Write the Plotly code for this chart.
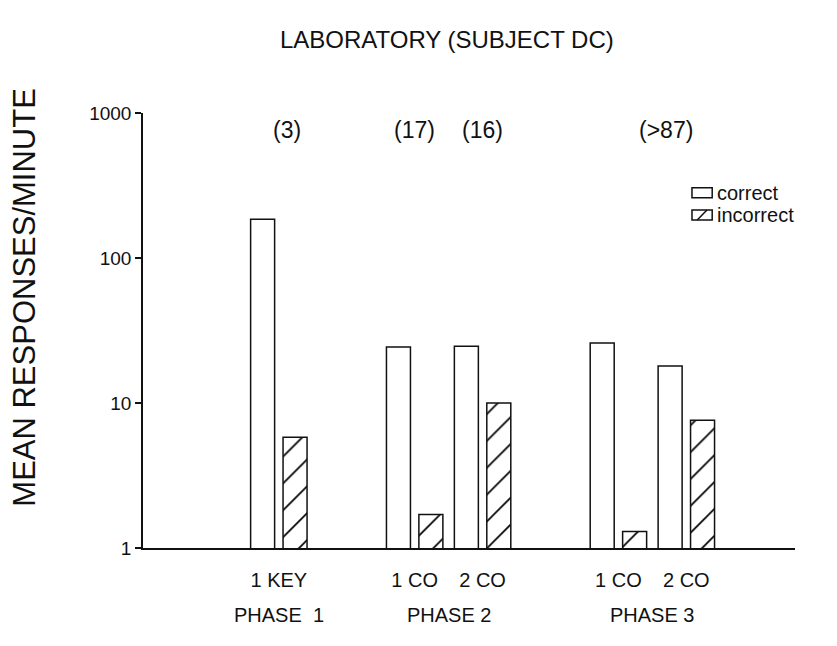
import plotly.graph_objects as go

# Mean responses per minute for each condition (log scale)
conditions = ["1 KEY", "1 CO", "2 CO", "1 CO", "2 CO"]
phases = ["PHASE 1", "PHASE 2", "PHASE 2", "PHASE 3", "PHASE 3"]
correct = [185, 24.3, 24.6, 25.9, 18.0]
incorrect = [5.8, 1.7, 10.0, 1.3, 7.6]
count_labels = ["(3)", "(17)", "(16)", "(>87)"]
y_ticks = [1, 10, 100, 1000]

FONT = "Liberation Sans"
INK = "#111111"

# one slot per condition, with an empty slot between phases
slots = []
pos = 0
prev = None
for ph in phases:
    if prev is not None and ph != prev:
        pos += 1
    slots.append(pos)
    pos += 1
    prev = ph

HATCH = dict(shape="/", size=19, solidity=0.09, fgcolor="black",
             fgopacity=1, bgcolor="white", fillmode="replace")

fig = go.Figure()
fig.add_trace(go.Bar(
    x=slots, y=correct, name="correct", showlegend=False,
    marker=dict(color="white", line=dict(color=INK, width=1.5)),
))
fig.add_trace(go.Bar(
    x=slots, y=incorrect, name="incorrect", showlegend=False,
    marker=dict(color="white", line=dict(color=INK, width=1.5), pattern=HATCH),
))

# session counts above the bars
count_x = [slots[0], slots[1], slots[2], (slots[3] + slots[4]) / 2]
count_shift = [8, 0, 0, 14]
for lab, cx, sh in zip(count_labels, count_x, count_shift):
    fig.add_annotation(x=cx, y=0.96, xref="x", yref="paper", text=lab,
                       showarrow=False, xshift=sh, yanchor="middle",
                       font=dict(family=FONT, size=23, color=INK))

# phase labels under the condition labels
phase_names = []
for ph in phases:
    if ph not in phase_names:
        phase_names.append(ph)
for ph in phase_names:
    xs = [s for s, p in zip(slots, phases) if p == ph]
    fig.add_annotation(x=sum(xs) / len(xs), y=-0.155, xref="x", yref="paper",
                       text=ph.replace(" ", "&nbsp;&nbsp;") if ph == "PHASE 1" else ph,
                       showarrow=False, yanchor="middle",
                       font=dict(family=FONT, size=20, color=INK))

# y-axis title
fig.add_annotation(x=-0.183, y=0.577, xref="paper", yref="paper",
                   text="MEAN RESPONSES/MINUTE", textangle=-90,
                   showarrow=False, xanchor="center", yanchor="middle",
                   font=dict(family=FONT, size=31, color=INK))

# key: open box = correct, box with a diagonal stroke = incorrect
key_x0, key_x1 = 0.842, 0.873
key_rows = [("correct", 0.828, 0.805, False), ("incorrect", 0.777, 0.754, True)]
for label, ytop, ybot, hatched in key_rows:
    fig.add_shape(type="rect", xref="paper", yref="paper",
                  x0=key_x0, x1=key_x1, y0=ybot, y1=ytop,
                  line=dict(color=INK, width=1.5), fillcolor="white")
    if hatched:
        fig.add_shape(type="line", xref="paper", yref="paper",
                      x0=key_x0 + 0.008, y0=ybot, x1=key_x0 + 0.023, y1=ytop,
                      line=dict(color=INK, width=1.5))
    fig.add_annotation(x=key_x1 + 0.004, y=(ytop + ybot) / 2, xref="paper",
                       yref="paper", text=label, showarrow=False,
                       xanchor="left", yanchor="middle",
                       font=dict(family=FONT, size=20, color=INK))

fig.update_layout(
    width=837, height=646,
    margin=dict(l=143, r=42, t=113, b=98),
    paper_bgcolor="white", plot_bgcolor="white",
    barmode="group", bargap=0.045, bargroupgap=0.26,
    showlegend=False,
    title=dict(text="LABORATORY (SUBJECT DC)", x=0.466, xref="paper",
               y=0.938, yref="container", xanchor="center", yanchor="middle",
               font=dict(family=FONT, size=24, color=INK)),
    xaxis=dict(range=[-2, 7.6], tickvals=slots, ticktext=conditions,
               showline=True, linecolor=INK, linewidth=1.5,
               showgrid=False, zeroline=False, ticks="",
               ticklabelstandoff=13,
               tickfont=dict(family=FONT, size=20, color=INK)),
    yaxis=dict(type="log", range=[0, 3], tickvals=y_ticks,
               ticktext=[str(v) for v in y_ticks],
               showline=True, linecolor=INK, linewidth=1.5,
               showgrid=False, zeroline=False,
               ticks="outside", ticklen=6, tickwidth=1.5, tickcolor=INK,
               tickfont=dict(family=FONT, size=19, color=INK)),
)

fig.write_html("out.html")
